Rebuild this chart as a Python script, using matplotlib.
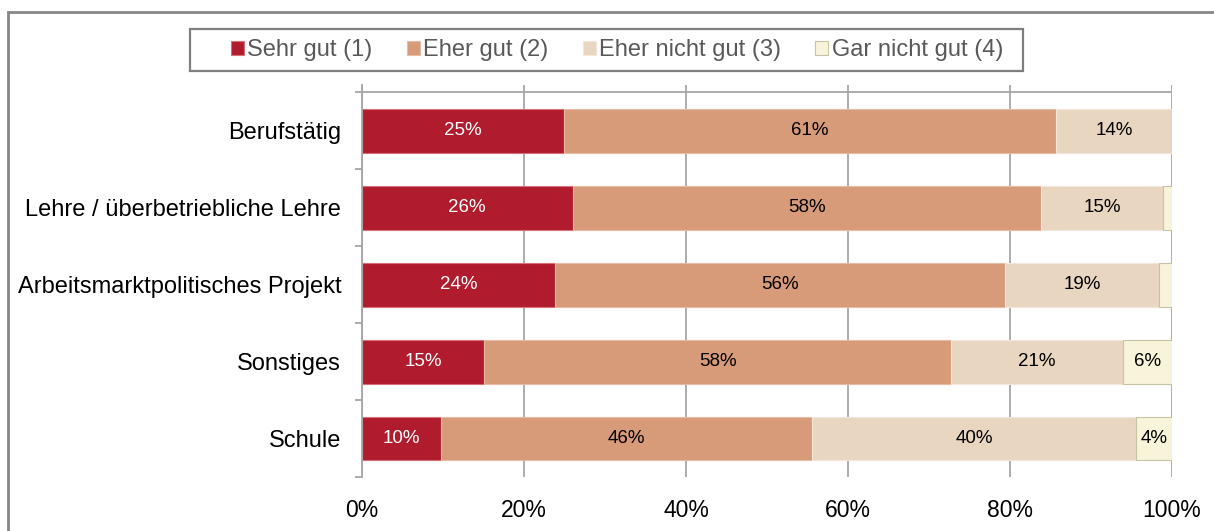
import matplotlib.pyplot as plt
from matplotlib.patches import Rectangle

# Daten
kategorien = ['Berufstätig', 'Lehre / überbetriebliche Lehre',
              'Arbeitsmarktpolitisches Projekt', 'Sonstiges', 'Schule']
serien = ['Sehr gut (1)', 'Eher gut (2)', 'Eher nicht gut (3)', 'Gar nicht gut (4)']
sehr_gut = [24.9, 26.0, 23.8, 15.1, 9.8]
eher_gut = [60.8, 57.8, 55.6, 57.6, 45.7]
eher_nicht_gut = [14.3, 15.1, 19.0, 21.3, 40.1]
gar_nicht_gut = [0.0, 1.1, 1.6, 6.0, 4.4]
x_ticks = [0, 20, 40, 60, 80, 100]

farben = ['#B01C2E', '#D79B7A', '#E8D6C1', '#F7F4DA']
kanten = ['#D8707A', '#E6BCA4', '#F2E7DA', '#C6C3A4']
textfarben = ['white', 'black', 'black', 'black']

plt.rcParams['font.family'] = ['Liberation Sans', 'DejaVu Sans']

W, H = 1214, 531
fig = plt.figure(figsize=(W / 100, H / 100), dpi=100)
ax = fig.add_axes([362 / W, 1 - 477 / H, 810 / W, 392 / H])

grau = '#A6A6A6'
for x in x_ticks:
    ax.axvline(x, color=grau, lw=1.3, zorder=0)
ax.hlines(-0.5, 0, 100, color=grau, lw=1.3, zorder=0)

y = list(range(len(kategorien)))
links = [0] * len(kategorien)
for werte, name, farbe, kante, tf in zip(
        [sehr_gut, eher_gut, eher_nicht_gut, gar_nicht_gut],
        serien, farben, kanten, textfarben):
    balken = ax.barh(y, werte, left=links, height=0.57, color=farbe,
                     edgecolor=kante, linewidth=0.8, label=name, zorder=2)
    for b, w in zip(balken, werte):
        if w >= 3:
            ax.text(b.get_x() + w / 2, b.get_y() + b.get_height() / 2,
                    f'{round(w):.0f}%', ha='center', va='center',
                    fontsize=13.5, color=tf, zorder=3)
    links = [l + w for l, w in zip(links, werte)]

ax.set_xlim(0, 100)
ax.set_ylim(4.5, -0.5 - 7.5 / 77)
ax.set_xticks(x_ticks)
ax.set_xticklabels([f'{x}%' for x in x_ticks], fontsize=16.5)
ax.set_yticks(y)
ax.set_yticklabels(kategorien, fontsize=17)
ax.set_yticks([i - 0.5 for i in range(len(kategorien) + 1)], minor=True)
ax.tick_params(axis='x', length=0, pad=16)
ax.tick_params(axis='y', which='major', length=0, pad=15)
ax.tick_params(axis='y', which='minor', length=5, width=1.3, color=grau)
for s in ['top', 'right', 'bottom']:
    ax.spines[s].set_visible(False)
ax.spines['left'].set_color(grau)
ax.spines['left'].set_linewidth(1.3)
ax.spines['left'].set_zorder(4)

# Legende (Rahmen separat gezeichnet)
leg = fig.legend(loc='center', bbox_to_anchor=(617 / W, 1 - 50 / H),
                 ncol=4, fontsize=17, frameon=False,
                 handlelength=0.55, handleheight=0.55, handletextpad=0.15,
                 columnspacing=1.45, borderpad=0.3)
for t in leg.get_texts():
    t.set_color('#595959')
fig.patches.append(Rectangle((190 / W, 1 - 71 / H), 833 / W, 42 / H,
                             transform=fig.transFigure, fill=False,
                             edgecolor='#7F7F7F', linewidth=1.6))

# Rahmen um das ganze Diagramm (rechts und unten abgeschnitten)
fig.patches.append(Rectangle((8 / W, -0.1), 1.2, 1.1 - 12 / H,
                             transform=fig.transFigure, fill=False,
                             edgecolor='#868686', linewidth=2))

fig.savefig('out.png', dpi=100)
